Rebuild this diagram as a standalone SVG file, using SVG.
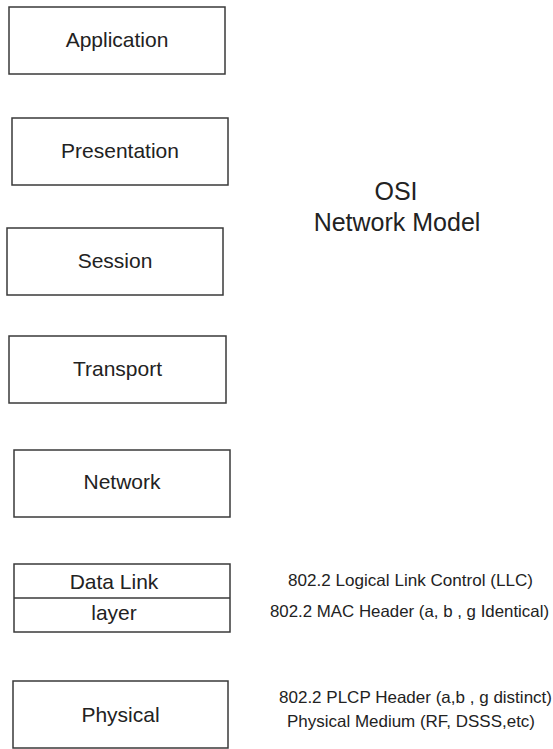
<svg xmlns="http://www.w3.org/2000/svg" width="553" height="749" viewBox="0 0 553 749">
<style>
.box{fill:#fff;stroke:#3a3a3a;stroke-width:1.5}
.lbl{font-family:"Liberation Sans",Arial,sans-serif;font-size:21px;fill:#222;text-anchor:middle}
.title{font-family:"Liberation Sans",Arial,sans-serif;font-size:25px;fill:#222;text-anchor:middle}
.note{font-family:"Liberation Sans",Arial,sans-serif;font-size:16.5px;fill:#222;text-anchor:middle}
</style>
<rect width="553" height="749" fill="#fff"/>
<g id="application"><rect class="box" x="9" y="7" width="216" height="67"/><text class="lbl" x="117" y="47">Application</text></g>
<g id="presentation"><rect class="box" x="12" y="118" width="216" height="67"/><text class="lbl" x="120" y="158">Presentation</text></g>
<g id="session"><rect class="box" x="7" y="228" width="216" height="67"/><text class="lbl" x="115" y="268">Session</text></g>
<g id="transport"><rect class="box" x="9" y="336" width="217" height="67"/><text class="lbl" x="117.5" y="376">Transport</text></g>
<g id="network"><rect class="box" x="14" y="450" width="216" height="67"/><text class="lbl" x="122" y="489">Network</text></g>
<g id="datalink"><rect class="box" x="14" y="564" width="216" height="68"/><line class="box" x1="14" y1="598" x2="230" y2="598"/><text class="lbl" x="114" y="589">Data Link</text><text class="lbl" x="114" y="620">layer</text></g>
<g id="physical"><rect class="box" x="13" y="681" width="215" height="67"/><text class="lbl" x="120.5" y="722">Physical</text></g>
<g id="osi-title"><text class="title" x="396" y="200">OSI</text><text class="title" x="397" y="231">Network Model</text></g>
<g id="notes">
<text class="note" x="410.5" y="586" textLength="245" lengthAdjust="spacingAndGlyphs">802.2 Logical Link Control (LLC)</text>
<text class="note" x="409.5" y="617" textLength="279" lengthAdjust="spacingAndGlyphs">802.2 MAC Header (a, b , g Identical)</text>
<text class="note" x="415.5" y="703" textLength="273" lengthAdjust="spacingAndGlyphs">802.2 PLCP Header (a,b , g distinct)</text>
<text class="note" x="411" y="727" textLength="248" lengthAdjust="spacingAndGlyphs">Physical Medium (RF, DSSS,etc)</text>
</g>
<g id="connectors"/>
</svg>
